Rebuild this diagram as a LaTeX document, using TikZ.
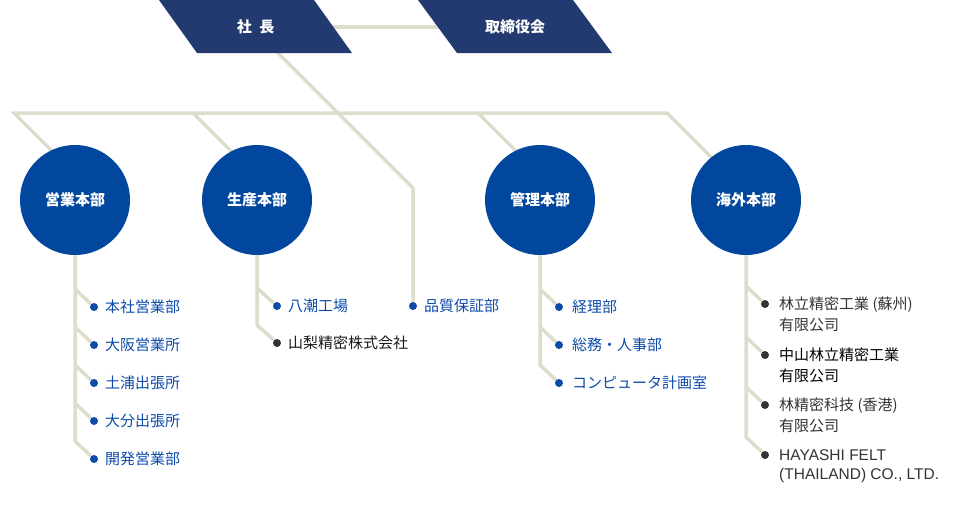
\documentclass[tikz,border=0pt]{standalone}
\usepackage{fontspec}
\setmainfont{Noto Sans CJK JP}
\newfontfamily\lat{Liberation Sans}
\usetikzlibrary{backgrounds,calc}
\definecolor{navy}{HTML}{233A70}
\definecolor{dblue}{HTML}{00479D}
\definecolor{tblue}{HTML}{0D4AAA}
\definecolor{linec}{HTML}{DDDDCC}
\definecolor{tgray}{HTML}{333333}
\begin{document}
\begin{tikzpicture}[x=1pt,y=-1pt,
 conn/.style={draw=linec,line width=3.5pt,line join=miter},
 ptext/.style={text=white,font=\bfseries\fontsize{15}{18}\selectfont,inner sep=0},
 div/.style={circle,fill=dblue,minimum size=110pt,inner sep=0,text=white,font=\bfseries\fontsize{15}{18}\selectfont},
 bdot/.style={circle,fill=tblue,minimum size=8pt,inner sep=0},
 gdot/.style={circle,fill=tgray,minimum size=8pt,inner sep=0},
 btext/.style={anchor=west,inner sep=0,text=tblue,font=\fontsize{15}{18}\selectfont},
 gtext/.style={anchor=north west,inner sep=0,text=tgray,align=left,font=\fontsize{15}{21}\selectfont},
]
\useasboundingbox (0,0) rectangle (960,530);

% top boxes
\fill[navy] (159,0) -- (314,0) -- (352,53) -- (197,53) -- cycle;
\node[ptext] (ceo) at (255.5,27) {社\hspace{0.5em}長};
\fill[navy] (418,0) -- (573,0) -- (612,53) -- (457,53) -- cycle;
\node[ptext] (board) at (515,27) {取締役会};

% divisions
\node[div] (sales) at (75,200) {営業本部};
\node[div] (prod) at (257,200) {生産本部};
\node[div] (admin) at (540,200) {管理本部};
\node[div] (intl) at (746,200) {海外本部};

% sales items
\node[bdot] (a1) at (94,307) {}; \node[btext] (a1t) at (105,307) {本社営業部};
\node[bdot] (a2) at (94,345) {}; \node[btext] (a2t) at (105,345) {大阪営業所};
\node[bdot] (a3) at (94,383) {}; \node[btext] (a3t) at (105,383) {土浦出張所};
\node[bdot] (a4) at (94,421) {}; \node[btext] (a4t) at (105,421) {大分出張所};
\node[bdot] (a5) at (94,459) {}; \node[btext] (a5t) at (105,459) {開発営業部};

% production items
\node[bdot] (p1) at (277,306) {}; \node[btext] (p1t) at (288,306) {八潮工場};
\node[gdot] (p2) at (277,343) {}; \node[btext,text=black!90] (p2t) at (288,343) {山梨精密株式会社};

% QA
\node[bdot] (qa) at (413,306) {}; \node[btext] (qat) at (424,306) {品質保証部};

% admin items
\node[bdot] (m1) at (559,307) {}; \node[btext] (m1t) at (572,307) {経理部};
\node[bdot] (m2) at (559,345) {}; \node[btext] (m2t) at (572,345) {総務・人事部};
\node[bdot] (m3) at (559,383) {}; \node[btext] (m3t) at (572,383) {コンピュータ計画室};

% overseas items
\node[gdot] (i1) at (765,304) {}; \node[gtext] (i1t) at (779,296.5) {林立精密工業 (蘇州)\\有限公司};
\node[gdot] (i2) at (765,355) {}; \node[gtext,text=black] (i2t) at (779,347.5) {中山林立精密工業\\有限公司};
\node[gdot] (i3) at (765,405) {}; \node[gtext] (i3t) at (779,397.5) {林精密科技 (香港)\\有限公司};
\node[gdot] (i4) at (765,455) {}; \node[gtext,font=\lat\fontsize{15.5}{18.5}\selectfont] (i4t) at (779,449.5) {HAYASHI FELT\\(THAILAND) CO., LTD.};

\begin{scope}[on background layer]
 \draw[conn] (ceo) -- (board);
 \coordinate (q1) at (265,40);
 \coordinate (q2) at (413,188);
 \draw[conn] (q1) -- (q2) -- (qa);
 \coordinate (b0) at (14,113);
 \coordinate (b1) at (667,113);
 \coordinate (e1) at (60,159);
 \coordinate (e4) at (720,166);
 \draw[conn] (e1) -- (b0) -- (b1) -- (e4);
 \coordinate (k2) at (193,113); \coordinate (e2) at (239,159);
 \draw[conn] (k2) -- (e2);
 \coordinate (k3) at (478,113); \coordinate (e3) at (524,159);
 \draw[conn] (k3) -- (e3);
 % stems
 \draw[conn] (sales.center) -- ($(a5)+(-19,-18)$) -- (a5);
 \foreach \d in {a1,a2,a3,a4} \draw[conn] ($(\d)+(-19,-18)$) -- (\d);
 \draw[conn] (prod.center) -- ($(p2)+(-20,-18)$) -- (p2);
 \draw[conn] ($(p1)+(-20,-18)$) -- (p1);
 \draw[conn] (admin.center) -- ($(m3)+(-19,-18)$) -- (m3);
 \foreach \d in {m1,m2} \draw[conn] ($(\d)+(-19,-18)$) -- (\d);
 \draw[conn] (intl.center) -- ($(i4)+(-19,-18)$) -- (i4);
 \foreach \d in {i1,i2,i3} \draw[conn] ($(\d)+(-19,-18)$) -- (\d);
\end{scope}
\end{tikzpicture}
\end{document}
